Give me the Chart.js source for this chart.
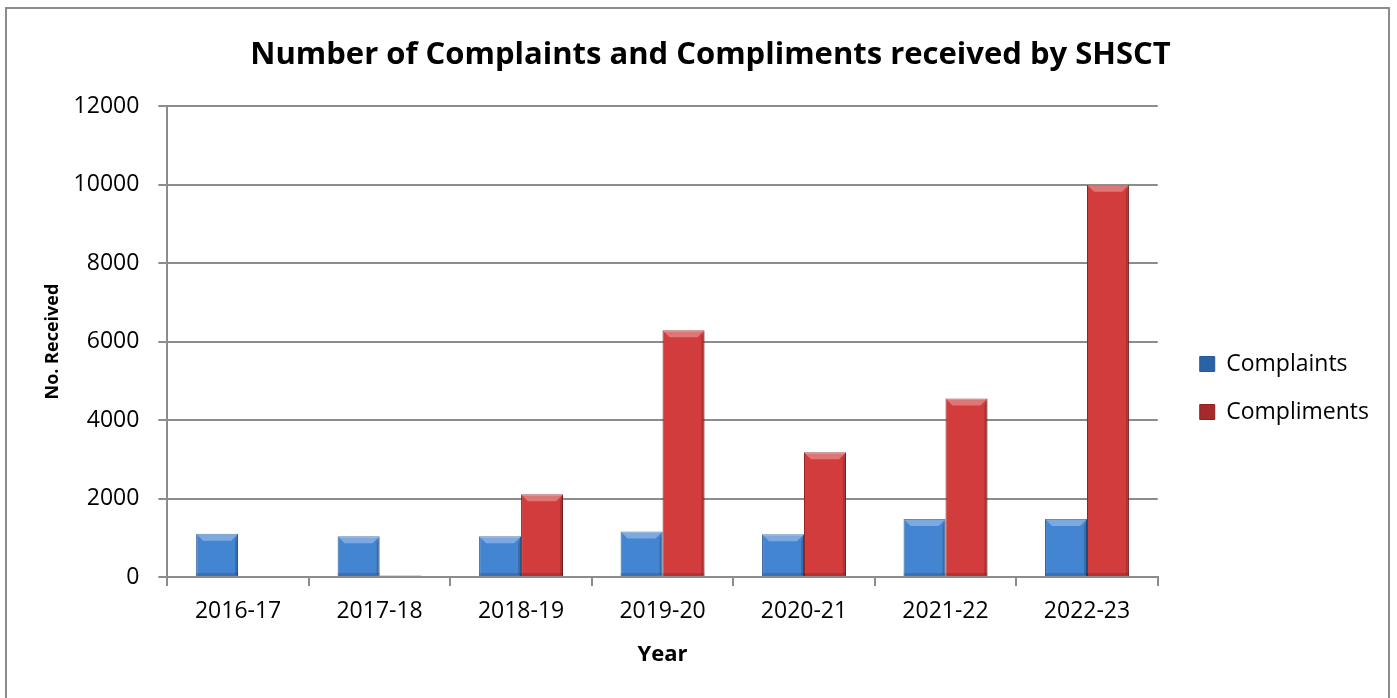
<!DOCTYPE html>
<html lang="en">
<head>
    <meta charset="UTF-8">
    <title>Number of Complaints and Compliments received by SHSCT</title>
    <script src="https://cdn.jsdelivr.net/npm/chart.js"></script>
    <style>
        html, body { margin: 0; padding: 0; background: #fff; overflow: hidden; }
        #frame { position: absolute; left: 5px; top: 7px; width: 1385px; height: 700px; border: 2px solid #8c8c8c; box-sizing: border-box; }
        #chart { position: absolute; left: 0; top: 0; }
    </style>
</head>
<body>
    <div id="frame"></div>
    <canvas id="chart" width="1397" height="698"></canvas>

    <script>
        const years = ['2016-17', '2017-18', '2018-19', '2019-20', '2020-21', '2021-22', '2022-23'];
        const complaints = [1100, 1040, 1040, 1160, 1090, 1480, 1480];
        const compliments = [0, 40, 2110, 6290, 3180, 4550, 10000];
        const yTicks = [0, 2000, 4000, 6000, 8000, 10000, 12000];

        const font = '"Open Sans", Lato, sans-serif';

        // little bevel on each bar, like the office chart style
        const bevel = {
            id: 'bevel',
            afterDatasetDraw(chart, args) {
                const c = chart.ctx;
                args.meta.data.forEach(bar => {
                    const w = bar.width;
                    const l = bar.x - w / 2, r = bar.x + w / 2;
                    const top = bar.y, bot = bar.base;
                    const h = bot - top;
                    if (!(h >= 3)) return;
                    const b = Math.min(7, h / 2);
                    c.save();
                    c.fillStyle = 'rgba(255,255,255,0.3)';
                    c.beginPath();
                    c.moveTo(l, top); c.lineTo(r, top); c.lineTo(r - b, top + b); c.lineTo(l + b, top + b);
                    c.closePath(); c.fill();
                    c.fillStyle = 'rgba(0,0,0,0.18)';
                    c.beginPath();
                    c.moveTo(r, top); c.lineTo(r, bot); c.lineTo(r - 3, bot - 2); c.lineTo(r - 3, top + b);
                    c.closePath(); c.fill();
                    c.fillStyle = 'rgba(0,0,0,0.15)';
                    c.fillRect(l, bot - 3, w, 3);
                    c.restore();
                });
            }
        };

        function barGradient(ctx, light, dark) {
            const el = ctx.element;
            if (!el || !Number.isFinite(el.x) || !Number.isFinite(el.width)) return light;
            const w = el.width;
            const g = ctx.chart.ctx.createLinearGradient(el.x - w / 2, 0, el.x + w / 2, 0);
            g.addColorStop(0, dark);
            g.addColorStop(0.15, light);
            g.addColorStop(0.6, light);
            g.addColorStop(1, dark);
            return g;
        }

        new Chart(document.getElementById('chart'), {
            type: 'bar',
            data: {
                labels: years,
                datasets: [{
                    label: 'Complaints',
                    data: complaints,
                    backgroundColor: ctx => ctx.type === 'data' ? barGradient(ctx, '#4485d2', '#2a62a6') : '#3a78c4',
                    borderColor: '#2a5a96',
                    borderWidth: 1,
                    categoryPercentage: 0.593,
                    barPercentage: 1.0
                }, {
                    label: 'Compliments',
                    data: compliments,
                    backgroundColor: ctx => ctx.type === 'data' ? barGradient(ctx, '#d23c3c', '#a62a2a') : '#c43434',
                    borderColor: '#8e2222',
                    borderWidth: 1,
                    categoryPercentage: 0.593,
                    barPercentage: 1.0
                }]
            },
            options: {
                responsive: false,
                animation: false,
                layout: { padding: { left: 42, right: 18, top: 0, bottom: 26 } },
                plugins: {
                    title: {
                        display: true,
                        text: 'Number of Complaints and Compliments received by SHSCT',
                        color: '#000',
                        font: { family: font, size: 31, weight: 'bold' },
                        padding: { top: 37, bottom: 32 }
                    },
                    legend: {
                        position: 'right',
                        title: { display: true, text: ' ', font: { size: 10 }, padding: { top: 46, bottom: 46 } },
                        labels: {
                            color: '#000',
                            font: { family: font, size: 23 },
                            boxWidth: 15,
                            boxHeight: 15,
                            padding: 25
                        }
                    },
                    tooltip: { enabled: false }
                },
                scales: {
                    x: {
                        grid: { drawOnChartArea: false, color: '#8c8c8c', lineWidth: 2, tickLength: 9 },
                        border: { color: '#8c8c8c', width: 2 },
                        ticks: { color: '#000', font: { family: font, size: 23 }, padding: 12 },
                        title: { display: true, text: 'Year', color: '#000', font: { family: font, size: 22, weight: 'bold' }, padding: { top: 4 } }
                    },
                    y: {
                        min: 0,
                        max: 12000,
                        afterBuildTicks: axis => { axis.ticks = yTicks.map(v => ({ value: v })); },
                        grid: { color: '#8c8c8c', lineWidth: 2, tickLength: 9 },
                        border: { color: '#8c8c8c', width: 2 },
                        ticks: { color: '#000', font: { family: font, size: 23 }, padding: 19, callback: v => String(v) },
                        title: { display: true, text: 'No. Received', color: '#000', font: { family: font, size: 18, weight: 'bold' }, padding: { top: 0, bottom: -9 } }
                    },
                    // empty strip between plot and legend
                    gap: {
                        type: 'linear',
                        position: 'right',
                        grid: { display: false },
                        border: { display: false },
                        ticks: { display: false },
                        afterFit: axis => { axis.width = 17; }
                    }
                }
            },
            plugins: [bevel]
        });
    </script>
</body>
</html>
